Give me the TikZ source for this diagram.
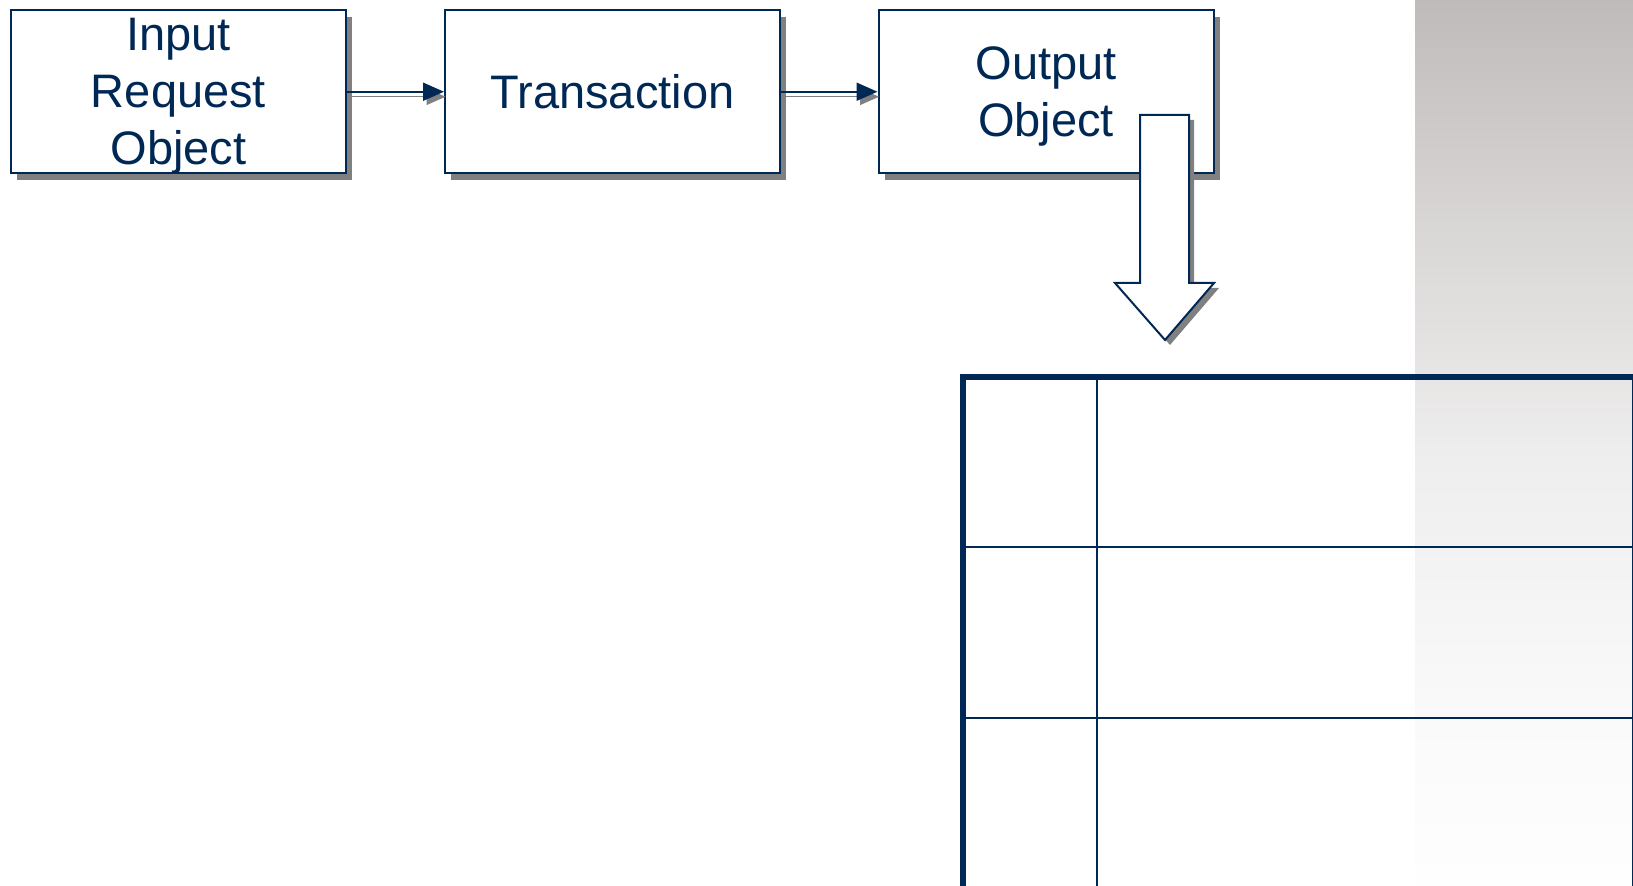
\documentclass[tikz,border=0pt]{standalone}
\usepackage{fontspec}
\setmainfont{Liberation Sans}
\usetikzlibrary{arrows.meta,shadows}
\definecolor{navy}{RGB}{0,40,85}
\definecolor{shadowgray}{RGB}{128,128,128}
\definecolor{fadeA}{RGB}{254,254,254}
\definecolor{fadeB}{RGB}{250,250,250}
\definecolor{fadeC}{RGB}{239,238,238}
\definecolor{fadeD}{RGB}{221,219,218}
\definecolor{fadeE}{RGB}{191,187,186}
\tikzset{
objbox/.style={draw=navy,line width=1pt,fill=white,text=navy,minimum width=167.5pt,minimum height=81.75pt,inner sep=0pt,align=center,text depth=0pt,font=\fontsize{23.5}{28.5}\selectfont,drop shadow={shadow xshift=3pt,shadow yshift=-3.5pt,fill=shadowgray,opacity=1}},
flow/.style={draw=navy,line width=1pt,-{Triangle[length=10.5pt,width=9pt]},preaction={draw=shadowgray,-{Triangle[length=10.5pt,width=9pt]},transform canvas={shift={(1.5pt,-2.5pt)}}}}
}
\begin{document}
\begin{tikzpicture}[x=.5pt,y=-.5pt]
\useasboundingbox(0,0)rectangle(1633,886);
\begin{scope}[shading=axis]
\shade[top color=fadeE,bottom color=fadeD](1415,0)rectangle(1633,270.5);
\shade[top color=fadeD,bottom color=fadeC](1415,270)rectangle(1633,460.5);
\shade[top color=fadeC,bottom color=fadeB](1415,460)rectangle(1633,718.5);
\shade[top color=fadeB,bottom color=fadeA](1415,718)rectangle(1633,886);
\end{scope}
\node[objbox](req)at(178.5,91.75){Input\\Request\\Object};
\node[objbox](trans)at(612.5,91.75){Transaction};
\node[objbox](out)at(1046,91.75){Output\\Object};
\draw[flow](req)--(trans);
\draw[flow](trans)--(out);
\begin{scope}[line width=1pt]
\draw[draw=navy,fill=white,line join=miter,drop shadow={shadow xshift=2.5pt,shadow yshift=-2.5pt,fill=shadowgray,opacity=1}]
(1140,115)--(1189,115)--(1189,283)--(1214,283)--(1165,340)--(1115,283)--(1140,283)--cycle;
\end{scope}
\begin{scope}[navy]
\draw[line width=3pt](963,886)--(963,377)--(1633,377);
\draw[line width=1pt](1097,377)--(1097,886);
\draw[line width=1pt](963,547)--(1633,547);
\draw[line width=1pt](963,718)--(1633,718);
\draw[line width=.6pt](1632.4,377)--(1632.4,886);
\end{scope}
\end{tikzpicture}
\end{document}
